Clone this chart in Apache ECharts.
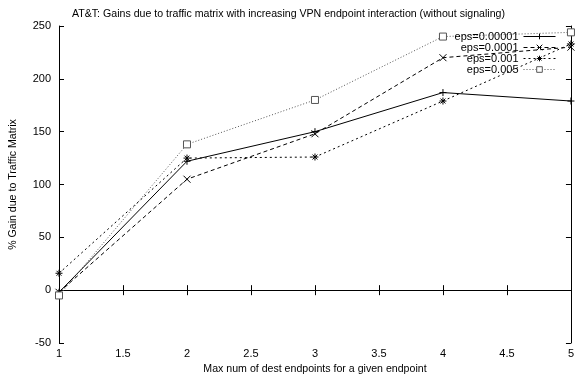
<!DOCTYPE html>
<html>
<head>
<meta charset="utf-8">
<script src="https://cdn.jsdelivr.net/npm/echarts@6/dist/echarts.min.js"></script>
<style>
  html, body { margin: 0; padding: 0; background: #fff; }
  #chart { width: 577px; height: 381px; }
</style>
</head>
<body>
<div id="chart"></div>
<script>
// Max number of destination endpoints (x) and % gain for each eps setting
const endpoints = [1, 2, 3, 4, 5];
const epsNames = ['eps=0.00001', 'eps=0.0001', 'eps=0.001', 'eps=0.005'];
const gainEps00001 = [-2, 122, 150, 187, 179];
const gainEps0001 = [-2, 105, 148, 220, 230];
const gainEps001 = [16, 125, 126, 179, 233];
const gainEps005 = [-5, 138, 180, 240, 244];
const xTicks = [1, 1.5, 2, 2.5, 3, 3.5, 4, 4.5, 5];
const yTicks = [-50, 0, 50, 100, 150, 200, 250];

const FONT = 'Liberation Sans, Arial, sans-serif';

// gnuplot-style point shapes
const PLUS = 'path://M0,5L10,5M5,0L5,10';
const CROSS = 'path://M0,0L10,10M0,10L10,0';
const STAR = 'path://M0,5L10,5M5,0L5,10M1.5,1.5L8.5,8.5M1.5,8.5L8.5,1.5';
const BOX = 'path://M0,0L10,0L10,10L0,10Z';

function pairs(vals) {
  return endpoints.map((x, i) => [x, vals[i]]);
}

function lineSeries(name, vals, symbol, color, type, fill) {
  return {
    name: name,
    type: 'line',
    data: pairs(vals),
    symbol: symbol,
    symbolSize: 7,
    showAllSymbol: true,
    lineStyle: { color: color, width: 1, type: type },
    itemStyle: { color: fill, borderColor: color, borderWidth: 1 },
    emphasis: { disabled: true },
    z: 3
  };
}

const chart = echarts.init(document.getElementById('chart'), null, { renderer: 'canvas' });

const axisCommon = {
  axisLine: { show: true, lineStyle: { color: '#000', width: 1 } },
  axisTick: { show: true, inside: true, length: 5, lineStyle: { color: '#000' } },
  splitLine: { show: false }
};

chart.setOption({
  animation: false,
  backgroundColor: '#fff',
  title: {
    text: 'AT&T: Gains due to traffic matrix with increasing VPN endpoint interaction (without signaling)',
    left: 'center',
    top: 4,
    textStyle: { fontFamily: FONT, fontSize: 10.6, fontWeight: 'normal', color: '#000' }
  },
  legend: {
    data: epsNames,
    orient: 'vertical',
    right: 21,
    top: 31,
    align: 'right',
    itemWidth: 32,
    itemHeight: 7,
    itemGap: 0,
    padding: 0,
    lineStyle: { width: 1 },
    itemStyle: { borderWidth: 1 },
    textStyle: { fontFamily: FONT, fontSize: 11, lineHeight: 11, color: '#000', padding: [0, 0, 0, 0] },
    backgroundColor: 'transparent'
  },
  grid: { left: 58, right: 5, top: 26, bottom: 38, containLabel: false },
  xAxis: [{
    type: 'value',
    min: 1, max: 5, interval: 0.5,
    position: 'bottom',
    name: 'Max num of dest endpoints for a given endpoint',
    nameLocation: 'middle',
    nameGap: 20,
    nameTextStyle: { fontFamily: FONT, fontSize: 10.6, color: '#000' },
    axisLabel: {
      fontFamily: FONT, fontSize: 11, color: '#000', margin: 5,
      formatter: v => xTicks.includes(v) ? String(v) : ''
    },
    ...axisCommon
  }, {
    type: 'value',
    min: 1, max: 5, interval: 0.5,
    position: 'top',
    axisLabel: { show: false },
    ...axisCommon
  }],
  yAxis: [{
    type: 'value',
    min: -50, max: 250, interval: 50,
    position: 'left',
    name: '% Gain due to Traffic Matrix',
    nameLocation: 'middle',
    nameGap: 40,
    nameRotate: 90,
    nameTextStyle: { fontFamily: FONT, fontSize: 10.6, color: '#000' },
    axisLabel: {
      fontFamily: FONT, fontSize: 11, color: '#000', margin: 8,
      formatter: v => yTicks.includes(v) ? String(v) : ''
    },
    ...axisCommon
  }, {
    type: 'value',
    min: -50, max: 250, interval: 50,
    position: 'right',
    axisLabel: { show: false },
    ...axisCommon
  }],
  series: [
    lineSeries(epsNames[0], gainEps00001, PLUS, '#000', 'solid', '#000'),
    lineSeries(epsNames[1], gainEps0001, CROSS, '#000', [4, 3], '#000'),
    lineSeries(epsNames[2], gainEps001, STAR, '#000', [2, 3], '#000'),
    lineSeries(epsNames[3], gainEps005, BOX, '#555', [1, 2], '#fff')
  ]
});
</script>
</body>
</html>
